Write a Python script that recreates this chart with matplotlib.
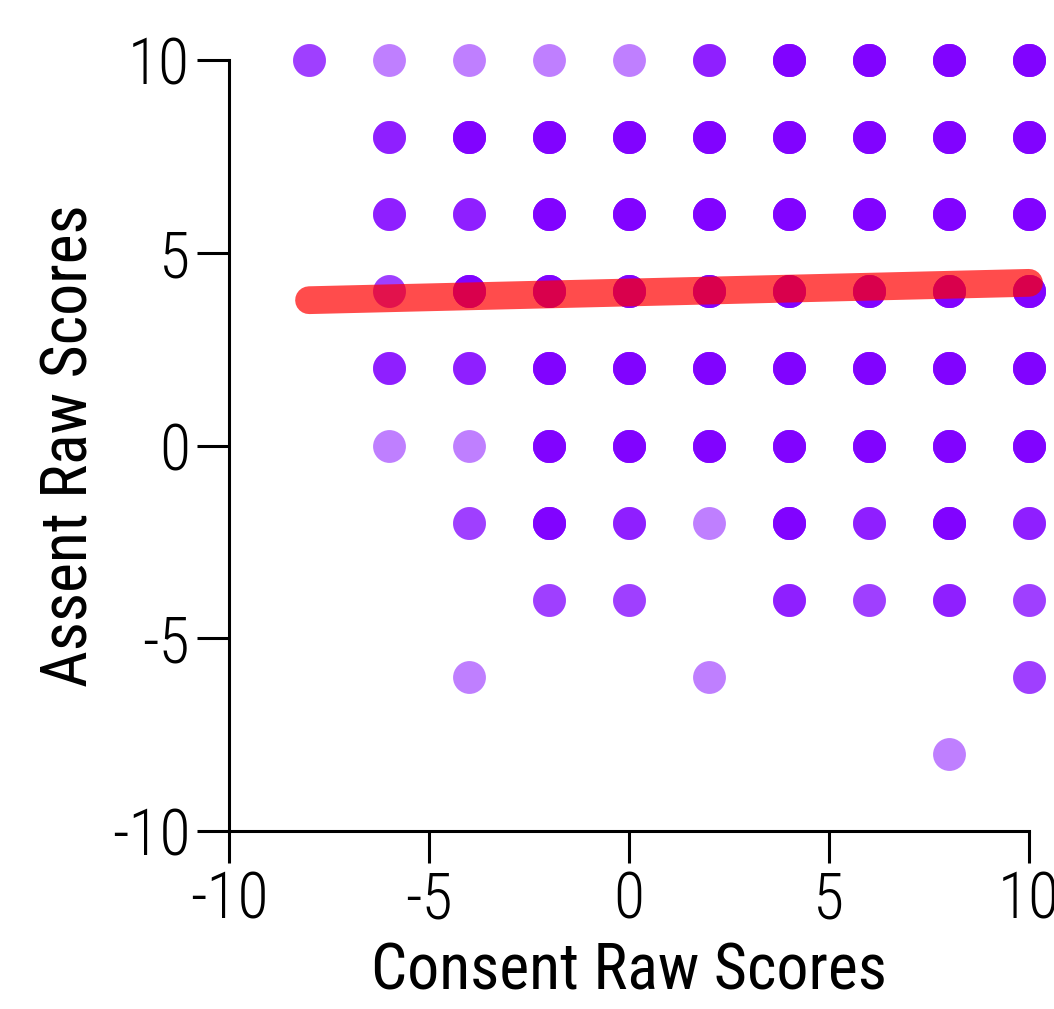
import numpy as np
import matplotlib
matplotlib.use("Agg")
import matplotlib.pyplot as plt
from matplotlib import font_manager

# grid of (consent, assent) scores and how many participants sit on each one
consent = [-8, -6, -4, -2, 0, 2, 4, 6, 8, 10,
           -6, -4, -2, 0, 2, 4, 6, 8, 10,
           -6, -4, -2, 0, 2, 4, 6, 8, 10,
           -6, -4, -2, 0, 2, 4, 6, 8, 10,
           -6, -4, -2, 0, 2, 4, 6, 8, 10,
           -6, -4, -2, 0, 2, 4, 6, 8, 10,
           -4, -2, 0, 2, 4, 6, 8, 10,
           -2, 0, 4, 6, 8, 10,
           -4, 2, 10,
           8]
assent = [10] * 10 + [8] * 9 + [6] * 9 + [4] * 9 + [2] * 9 + [0] * 9 + [-2] * 8 + [-4] * 6 + [-6] * 3 + [-8]
counts = [2, 1, 1, 1, 1, 3, 6, 6, 6, 6,
          3, 6, 6, 6, 6, 6, 6, 6, 6,
          3, 3, 6, 6, 6, 6, 6, 6, 6,
          2, 6, 6, 6, 6, 6, 6, 6, 6,
          3, 3, 6, 6, 6, 6, 6, 6, 6,
          1, 1, 6, 6, 6, 6, 6, 6, 6,
          2, 6, 3, 1, 6, 3, 6, 3,
          2, 2, 3, 2, 3, 2,
          1, 1, 2,
          1]

# fitted regression line end points
fit_x = [-8, 10]
fit_y = [3.77, 4.22]

ticks = [-10, -5, 0, 5, 10]

installed = {f.name for f in font_manager.fontManager.ttflist}
family = "DejaVu Sans"
for name in ["Liberation Sans Narrow", "Roboto Condensed", "Roboto", "Liberation Sans"]:
    if name in installed:
        family = name
        break
plt.rcParams["font.family"] = [family, "DejaVu Sans"]
plt.rcParams["font.weight"] = "light"

fig = plt.figure(figsize=(10.54, 10.09), dpi=100)
ax = fig.add_axes([0.2173, 0.1764, 0.7590, 0.7641])
ax.patch.set_visible(False)

px = np.repeat(consent, counts)
py = np.repeat(assent, counts)
ax.scatter(px, py, s=560, color="#8000ff", alpha=0.5, linewidths=0, clip_on=False, zorder=2)
ax.plot(fit_x, fit_y, color="#ff0000", alpha=0.7, lw=20, solid_capstyle="round", clip_on=False, zorder=3)

ax.set_xlim(-10, 10)
ax.set_ylim(-10, 10)
ax.set_xticks(ticks)
ax.set_yticks(ticks)
ax.set_xticklabels([str(t) for t in ticks])
ax.set_yticklabels([str(t) for t in ticks])

for side in ["top", "right"]:
    ax.spines[side].set_visible(False)
for side in ["left", "bottom"]:
    ax.spines[side].set_linewidth(2.2)
ax.tick_params(axis="both", direction="out", length=23, width=2.2, labelsize=46, pad=5)
ax.set_xlabel("Consent Raw Scores", fontsize=46, labelpad=6)
ax.set_ylabel("Assent Raw Scores", fontsize=46, labelpad=8)

fig.savefig("out.png", dpi=100)
